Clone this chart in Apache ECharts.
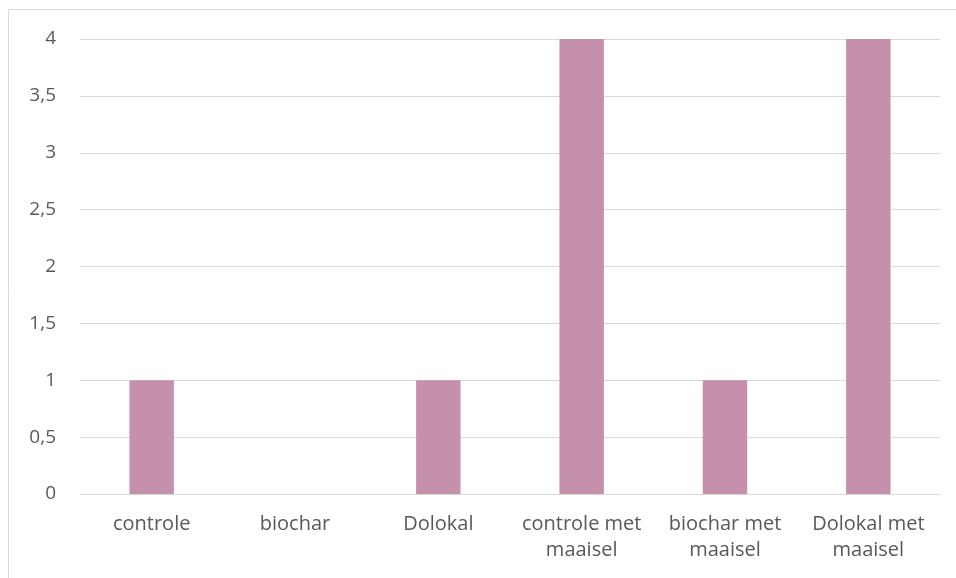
<!DOCTYPE html>
<html><head><meta charset="utf-8">
<script src="https://cdn.jsdelivr.net/npm/echarts@6/dist/echarts.min.js"></script>
<style>html,body{margin:0;padding:0;background:#fff}#c{width:956px;height:578px}</style>
</head><body><div id="c"></div>
<script>
const categories = ["controle", "biochar", "Dolokal", "controle met\nmaaisel", "biochar met\nmaaisel", "Dolokal met\nmaaisel"];
const values = [1, 0, 1, 4, 1, 4];
const yTicks = [0, 0.5, 1, 1.5, 2, 2.5, 3, 3.5, 4];

const chart = echarts.init(document.getElementById('c'), null, {renderer: 'canvas'});
const font = "'Open Sans', 'Liberation Sans', sans-serif";
chart.setOption({
  animation: false,
  graphic: [{
    type: 'rect', shape: {x: 8.5, y: 9.5, width: 1200, height: 1000},
    style: {fill: 'none', stroke: '#d9d9d9', lineWidth: 1}, silent: true
  }],
  grid: {left: 80, right: 16, top: 39, bottom: 84, containLabel: false},
  xAxis: {
    type: 'category', data: categories,
    axisLine: {lineStyle: {color: '#d9d9d9', width: 1}},
    axisTick: {show: false},
    axisLabel: {color: '#595959', fontSize: 20, fontFamily: font, lineHeight: 26, margin: 17, interval: 0}
  },
  yAxis: {
    type: 'value', min: 0, max: 4, interval: 0.5,
    axisLine: {show: false}, axisTick: {show: false},
    splitLine: {lineStyle: {color: '#d9d9d9', width: 1}},
    axisLabel: {color: '#595959', fontSize: 19, fontFamily: font, margin: 24,
      formatter: v => String(v).replace('.', ',')}
  },
  series: [{
    type: 'bar', data: values, barWidth: '31%',
    itemStyle: {color: '#c490ab'}
  }]
});
</script></body></html>
